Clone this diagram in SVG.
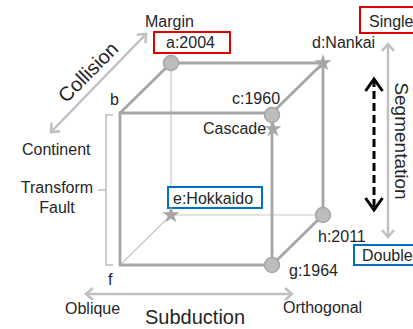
<svg xmlns="http://www.w3.org/2000/svg" width="413" height="329" viewBox="0 0 413 329">
<style>
text{font-family:"Liberation Sans",Arial,sans-serif;font-size:16px;fill:#262626}
.big{font-size:20px}
.thick{stroke:#a6a6a6;stroke-width:2.8;fill:none}
.thin{stroke:#c8c8c8;stroke-width:1.2;fill:none}
.arr{stroke:#c0c0c0;stroke-width:2.5;fill:none}
.dot{fill:#bdbdbd;stroke:#a6a6a6;stroke-width:1.5}
.star{fill:#a6a6a6}
.red{fill:#fff;stroke:#e00000;stroke-width:2}
.blue{fill:#fff;stroke:#0070c0;stroke-width:2}
</style>
<defs>
<marker id="ga" markerUnits="userSpaceOnUse" markerWidth="20" markerHeight="20" viewBox="-10 -10 20 20" refX="0" refY="0" orient="auto-start-reverse">
<path d="M-7,-6 L0,0 L-7,6" fill="none" stroke="#c0c0c0" stroke-width="2.5"/>
</marker>
<marker id="ba" markerUnits="userSpaceOnUse" markerWidth="30" markerHeight="30" viewBox="-15 -15 30 30" refX="0" refY="0" orient="auto-start-reverse">
<path d="M-12,-8.5 L0,0 L-12,8.5" fill="none" stroke="#000" stroke-width="3"/>
</marker>
<path id="st" d="M0,-9 L2.06,-2.83 L8.56,-2.78 L3.33,1.08 L5.29,7.28 L0,3.5 L-5.29,7.28 L-3.33,1.08 L-8.56,-2.78 L-2.06,-2.83 Z"/>
</defs>

<g id="connectors">
<path class="thin" d="M171,63 V215 H323 M171,215 L120,265"/>
<path class="thick" d="M171,63 H323 V215 M171,63 L120,113 M323,63 L272,113 M323,215 L272,265"/>
<path class="thick" d="M120,113 H272 V265 H120 Z"/>
<path d="M113,115 H106 V265 H113 M106,190 H98" stroke="#bfbfbf" stroke-width="1.5" fill="none"/>
<line class="arr" x1="51" y1="132" x2="146" y2="34" marker-start="url(#ga)" marker-end="url(#ga)"/>
<line class="arr" x1="86" y1="294" x2="292" y2="294" marker-start="url(#ga)" marker-end="url(#ga)"/>
<line class="arr" x1="388" y1="44" x2="388" y2="237" marker-start="url(#ga)" marker-end="url(#ga)"/>
<line x1="374" y1="79" x2="374" y2="210" stroke="#000" stroke-width="3" stroke-dasharray="8 4" marker-start="url(#ba)" marker-end="url(#ba)"/>
</g>

<g id="node-a"><rect class="red" x="154" y="32" width="76" height="21"/><text x="166" y="48">a:2004</text><circle class="dot" cx="171" cy="63" r="7.5"/></g>
<g id="node-b"><text x="110" y="105">b</text></g>
<g id="node-c"><text x="232" y="104">c:1960</text><circle class="dot" cx="272" cy="115" r="7.5"/></g>
<g id="node-cascade"><text x="203" y="134">Cascade</text><use href="#st" class="star" x="273" y="129"/></g>
<g id="node-d"><text x="312" y="48">d:Nankai</text><use href="#st" class="star" x="323" y="63"/></g>
<g id="node-e"><rect class="blue" x="168" y="187" width="94" height="21"/><text x="173" y="204">e:Hokkaido</text><use href="#st" class="star" x="171" y="215"/></g>
<g id="node-f"><text x="108" y="285">f</text></g>
<g id="node-g"><text x="289" y="276">g:1964</text><circle class="dot" cx="272" cy="265" r="7.5"/></g>
<g id="node-h"><text x="318" y="242">h:2011</text><circle class="dot" cx="323" cy="215" r="7.5"/></g>

<g id="axis-collision">
<text x="145" y="27">Margin</text>
<text x="22" y="155">Continent</text>
<text class="big" transform="translate(88,72) rotate(-45)" text-anchor="middle" y="7">Collision</text>
</g>
<g id="axis-transform">
<text x="57" y="193" text-anchor="middle">Transform</text>
<text x="57" y="213" text-anchor="middle">Fault</text>
</g>
<g id="axis-subduction">
<text x="65" y="314">Oblique</text>
<text x="283" y="313">Orthogonal</text>
<text class="big" x="145" y="324">Subduction</text>
</g>
<g id="axis-segmentation">
<rect class="red" x="360" y="7" width="60" height="26"/><text x="369" y="27">Single</text>
<rect class="blue" x="354" y="245" width="66" height="20"/><text x="362" y="261">Double</text>
<text class="big" transform="translate(395,141) rotate(90)" text-anchor="middle" style="font-size:19px">Segmentation</text>
</g>
</svg>
